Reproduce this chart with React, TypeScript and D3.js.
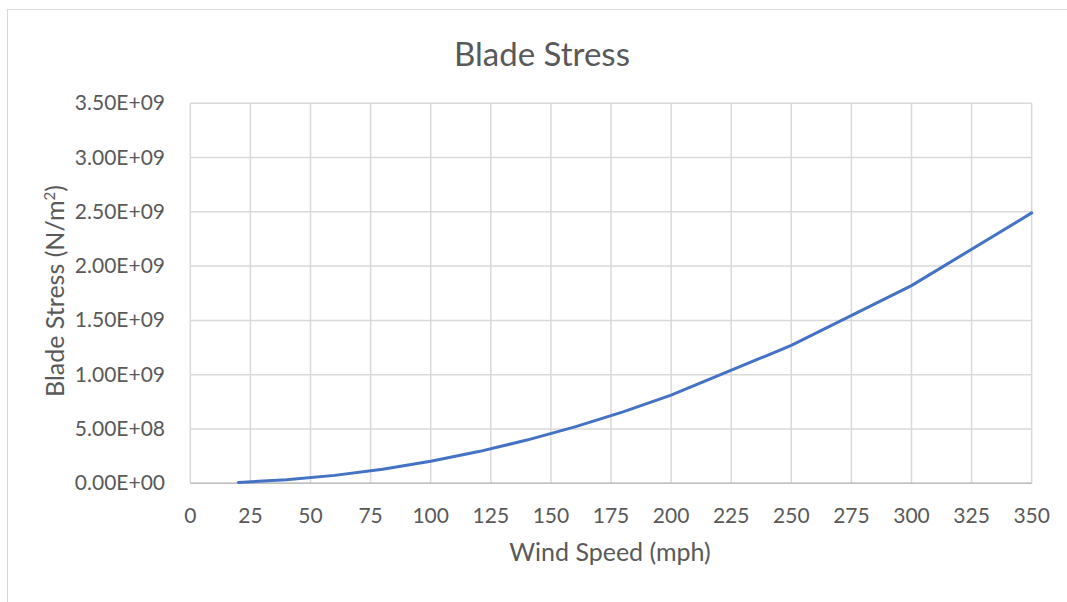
import React from 'react';
import * as d3 from 'd3';

// wind speed (mph) and blade stress (N/m^2)
const windSpeed = [20, 40, 60, 80, 100, 120, 140, 160, 180, 200, 250, 300, 350];
const bladeStress = [
  8.1e6, 3.25e7, 7.3e7, 1.3e8, 2.03e8, 2.92e8, 3.98e8, 5.2e8, 6.58e8, 8.12e8, 1.27e9, 1.82e9, 2.49e9,
];
const xTicks = d3.range(0, 351, 25);
const yTicks = [0, 0.5e9, 1e9, 1.5e9, 2e9, 2.5e9, 3e9, 3.5e9];

const W = 1067;
const H = 602;
const left = 190.3;
const right = 1031.7;
const top = 103.2;
const bottom = 483.3;
const font = 'Lato, "Open Sans", sans-serif';

const fmtY = (v: number) => {
  const [m, e] = v.toExponential(2).split('e');
  const exp = Math.abs(+e).toString().padStart(2, '0');
  return `${m}E${+e < 0 ? '-' : '+'}${exp}`;
};

const App: React.FC = () => {
  const x = d3.scaleLinear().domain([0, 350]).range([left, right]);
  const y = d3.scaleLinear().domain([0, 3.5e9]).range([bottom, top]);

  const pts = windSpeed.map((w, i) => [w, bladeStress[i]] as [number, number]);
  const line = d3
    .line<[number, number]>()
    .x((d) => x(d[0]))
    .y((d) => y(d[1]));

  return (
    <svg
      width={W}
      height={H}
      style={{ position: 'absolute', left: 0, top: 0, background: '#fff' }}
      fontFamily={font}
    >
      {/* chart area border */}
      <rect x={7.5} y={9.5} width={W + 10} height={H + 10} fill="#fff" stroke="#d9d9d9" />

      <text x={542} y={66} textAnchor="middle" fontSize={33} fill="#595959">
        Blade Stress
      </text>

      {/* gridlines */}
      {yTicks.map((t) => (
        <line key={'gy' + t} x1={left} x2={right} y1={y(t)} y2={y(t)} stroke="#d9d9d9" strokeWidth={1.5} />
      ))}
      {xTicks.map((t) => (
        <line key={'gx' + t} x1={x(t)} x2={x(t)} y1={top} y2={bottom} stroke="#d9d9d9" strokeWidth={1.5} />
      ))}
      <line x1={left} x2={right} y1={bottom} y2={bottom} stroke="#bfbfbf" strokeWidth={1.5} />

      {/* tick labels */}
      {yTicks.map((t) => (
        <text key={'ly' + t} x={165} y={y(t) + 7} textAnchor="end" fontSize={21} fill="#595959">
          {fmtY(t)}
        </text>
      ))}
      {xTicks.map((t) => (
        <text key={'lx' + t} x={x(t)} y={523} textAnchor="middle" fontSize={21} fill="#595959">
          {t}
        </text>
      ))}

      {/* axis titles */}
      <text x={610} y={561} textAnchor="middle" fontSize={25} fill="#595959">
        Wind Speed (mph)
      </text>
      <text
        transform={`translate(64, 291) rotate(-90)`}
        textAnchor="middle"
        fontSize={25}
        fill="#595959"
      >
        Blade Stress (N/m<tspan dy={-9} fontSize={15}>2</tspan>
        <tspan dy={9}>)</tspan>
      </text>

      <path d={line(pts) || ''} fill="none" stroke="#4472c4" strokeWidth={3} strokeLinecap="round" />
    </svg>
  );
};

export default App;
